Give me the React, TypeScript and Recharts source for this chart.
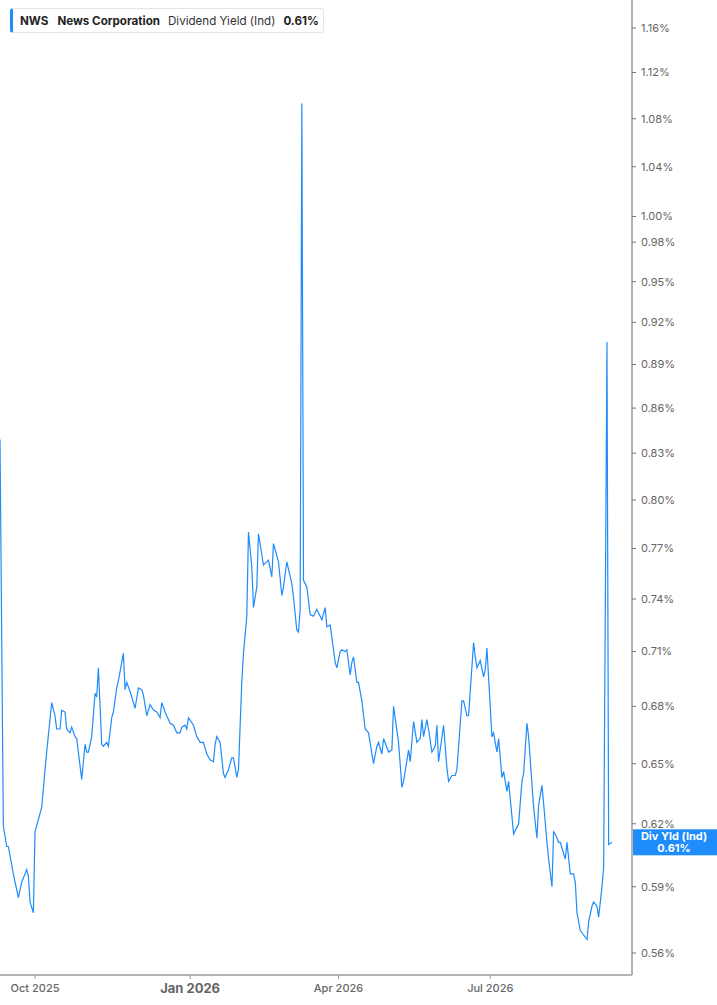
import React from 'react'
import {
  LineChart,
  Line,
  XAxis,
  YAxis,
  ReferenceLine,
} from 'recharts'

const dates = [
  '2025-09-10', '2025-09-12', '2025-09-14', '2025-09-15', '2025-09-18', '2025-09-21',
  '2025-09-23', '2025-09-26', '2025-09-27', '2025-09-28', '2025-09-30', '2025-10-01',
  '2025-10-05', '2025-10-07', '2025-10-08', '2025-10-11', '2025-10-13', '2025-10-14',
  '2025-10-16', '2025-10-17', '2025-10-19', '2025-10-20', '2025-10-22', '2025-10-23',
  '2025-10-25', '2025-10-26', '2025-10-29', '2025-10-31', '2025-11-01', '2025-11-02',
  '2025-11-04', '2025-11-06', '2025-11-07', '2025-11-08', '2025-11-10', '2025-11-11',
  '2025-11-13', '2025-11-14', '2025-11-16', '2025-11-17', '2025-11-19', '2025-11-20',
  '2025-11-23', '2025-11-24', '2025-11-25', '2025-11-27', '2025-11-29', '2025-11-30',
  '2025-12-02', '2025-12-04', '2025-12-05', '2025-12-07', '2025-12-09', '2025-12-11',
  '2025-12-13', '2025-12-15', '2025-12-16', '2025-12-18', '2025-12-21', '2025-12-23',
  '2025-12-25', '2025-12-27', '2025-12-28', '2025-12-30', '2025-12-31', '2026-01-01',
  '2026-01-04', '2026-01-06', '2026-01-08', '2026-01-10', '2026-01-12', '2026-01-14',
  '2026-01-16', '2026-01-17', '2026-01-18', '2026-01-20', '2026-01-22', '2026-01-23',
  '2026-01-25', '2026-01-27', '2026-01-28', '2026-01-30', '2026-01-31', '2026-02-02',
  '2026-02-03', '2026-02-05', '2026-02-06', '2026-02-08', '2026-02-09', '2026-02-11',
  '2026-02-12', '2026-02-15', '2026-02-18', '2026-02-20', '2026-02-21', '2026-02-24',
  '2026-02-26', '2026-02-27', '2026-03-01', '2026-03-04', '2026-03-05', '2026-03-07',
  '2026-03-08', '2026-03-09', '2026-03-10', '2026-03-11', '2026-03-12', '2026-03-13',
  '2026-03-15', '2026-03-17', '2026-03-19', '2026-03-21', '2026-03-22', '2026-03-24',
  '2026-03-25', '2026-03-27', '2026-03-28', '2026-03-30', '2026-03-31', '2026-04-02',
  '2026-04-03', '2026-04-05', '2026-04-06', '2026-04-08', '2026-04-09', '2026-04-10',
  '2026-04-12', '2026-04-13', '2026-04-15', '2026-04-17', '2026-04-19', '2026-04-22',
  '2026-04-24', '2026-04-25', '2026-04-27', '2026-04-28', '2026-05-01', '2026-05-03',
  '2026-05-04', '2026-05-07', '2026-05-09', '2026-05-10', '2026-05-13', '2026-05-14',
  '2026-05-16', '2026-05-18', '2026-05-20', '2026-05-21', '2026-05-22', '2026-05-24',
  '2026-05-25', '2026-05-27', '2026-05-29', '2026-05-30', '2026-05-31', '2026-06-03',
  '2026-06-05', '2026-06-06', '2026-06-08', '2026-06-10', '2026-06-11', '2026-06-14',
  '2026-06-15', '2026-06-17', '2026-06-18', '2026-06-21', '2026-06-22', '2026-06-23',
  '2026-06-25', '2026-06-27', '2026-06-28', '2026-06-29', '2026-07-02', '2026-07-03',
  '2026-07-05', '2026-07-06', '2026-07-08', '2026-07-09', '2026-07-11', '2026-07-12',
  '2026-07-15', '2026-07-18', '2026-07-20', '2026-07-21', '2026-07-23', '2026-07-24',
  '2026-07-27', '2026-07-29', '2026-07-30', '2026-08-01', '2026-08-02', '2026-08-04',
  '2026-08-05', '2026-08-07', '2026-08-08', '2026-08-09', '2026-08-11', '2026-08-12',
  '2026-08-15', '2026-08-16', '2026-08-18', '2026-08-20', '2026-08-21', '2026-08-22',
  '2026-08-24', '2026-08-26', '2026-08-28', '2026-08-29', '2026-08-31', '2026-09-01',
  '2026-09-03', '2026-09-04', '2026-09-06', '2026-09-07', '2026-09-09', '2026-09-10',
  '2026-09-12',
]

// dividend yield, percent
const yields = [
  0.839, 0.619, 0.609, 0.609, 0.596, 0.585,
  0.592, 0.598, 0.595, 0.583, 0.578, 0.616,
  0.628, 0.647, 0.656, 0.682, 0.675, 0.668,
  0.668, 0.678, 0.677, 0.668, 0.666, 0.669,
  0.664, 0.663, 0.642, 0.660, 0.656, 0.656,
  0.664, 0.687, 0.685, 0.701, 0.660, 0.659,
  0.661, 0.659, 0.674, 0.677, 0.690, 0.694,
  0.709, 0.689, 0.693, 0.688, 0.682, 0.679,
  0.690, 0.689, 0.686, 0.675, 0.681, 0.678,
  0.677, 0.674, 0.682, 0.677, 0.671, 0.670,
  0.666, 0.666, 0.669, 0.670, 0.668, 0.674,
  0.670, 0.664, 0.661, 0.661, 0.655, 0.652,
  0.651, 0.660, 0.664, 0.661, 0.645, 0.643,
  0.647, 0.653, 0.653, 0.643, 0.647, 0.693,
  0.709, 0.730, 0.780, 0.759, 0.735, 0.747,
  0.779, 0.760, 0.763, 0.753, 0.773, 0.762,
  0.742, 0.747, 0.762, 0.749, 0.741, 0.722,
  0.721, 0.734, 1.093, 0.751, 0.749, 0.747,
  0.731, 0.730, 0.734, 0.730, 0.728, 0.735,
  0.724, 0.725, 0.718, 0.704, 0.701, 0.710,
  0.711, 0.710, 0.711, 0.697, 0.704, 0.707,
  0.693, 0.693, 0.683, 0.668, 0.666, 0.650,
  0.659, 0.661, 0.655, 0.663, 0.656, 0.657,
  0.680, 0.661, 0.638, 0.641, 0.657, 0.651,
  0.672, 0.661, 0.663, 0.673, 0.664, 0.673,
  0.668, 0.656, 0.659, 0.670, 0.651, 0.670,
  0.648, 0.641, 0.644, 0.644, 0.647, 0.683,
  0.683, 0.675, 0.675, 0.715, 0.707, 0.701,
  0.705, 0.696, 0.700, 0.712, 0.664, 0.666,
  0.656, 0.663, 0.643, 0.646, 0.636, 0.641,
  0.615, 0.620, 0.641, 0.645, 0.671, 0.664,
  0.628, 0.613, 0.629, 0.639, 0.630, 0.611,
  0.603, 0.590, 0.616, 0.615, 0.611, 0.611,
  0.603, 0.611, 0.596, 0.596, 0.592, 0.578,
  0.570, 0.568, 0.566, 0.574, 0.581, 0.583,
  0.581, 0.576, 0.590, 0.599, 0.906, 0.610,
  0.611,
]

const yTicks = [
  0.56, 0.59, 0.62, 0.65, 0.68, 0.71, 0.74, 0.77, 0.8, 0.83,
  0.86, 0.89, 0.92, 0.95, 0.98, 1.0, 1.04, 1.08, 1.12, 1.16,
]
const xTickDates = ['2025-10-01', '2026-01-02', '2026-04-01', '2026-07-01']
const xTickLabels = ['Oct 2025', 'Jan 2026', 'Apr 2026', 'Jul 2026']
const yearTick = 'Jan 2026'

const X_START = '2025-09-10'
const X_END = '2026-09-24'
const Y_MIN = 0.5504
const Y_MAX = 1.1858

const BLUE = '#1e8cfa'
const FONT = 'Inter, "Noto Sans", sans-serif'

const toTime = (d: string) => Date.parse(d + 'T00:00:00Z')

const data = dates.map((d, i) => ({ t: toTime(d), v: yields[i] }))
const xTicks = xTickDates.map(toTime)
const lastValue = yields[yields.length - 1]

const formatX = (t: number) => xTickLabels[xTicks.indexOf(t)] ?? ''

const XTick = (props: any) => {
  const { x, y, payload } = props
  const label = formatX(payload.value)
  const isYear = label === yearTick
  return (
    <text
      x={x}
      y={y}
      dy={isYear ? 12 : 11}
      textAnchor="middle"
      fill="#666"
      fontFamily={FONT}
      fontSize={isYear ? 13 : 11}
      fontWeight={isYear ? 700 : 500}
    >
      {label}
    </text>
  )
}

const LastLabel = (props: any) => {
  const { viewBox } = props
  const x = viewBox.x + viewBox.width
  const y = viewBox.y
  return (
    <g>
      <rect x={x} y={y - 13} width={85} height={26} fill={BLUE} />
      <text
        x={x + 42}
        y={y - 2}
        textAnchor="middle"
        fill="#fff"
        fontFamily={FONT}
        fontSize={11}
        fontWeight={700}
      >
        Div Yld (Ind)
      </text>
      <text
        x={x + 42}
        y={y + 10}
        textAnchor="middle"
        fill="#fff"
        fontFamily={FONT}
        fontSize={11}
        fontWeight={700}
      >
        {lastValue.toFixed(2)}%
      </text>
    </g>
  )
}

const Legend = () => (
  <div
    style={{
      position: 'absolute',
      left: 10,
      top: 8,
      width: 314,
      height: 25,
      boxSizing: 'border-box',
      border: '1px solid #e4e4e4',
      borderLeft: `3px solid ${BLUE}`,
      borderRadius: 3,
      background: '#fff',
      display: 'flex',
      alignItems: 'center',
      paddingLeft: 7,
      fontFamily: FONT,
      fontSize: 11.6,
      color: '#222',
      whiteSpace: 'nowrap',
    }}
  >
    <span style={{ fontWeight: 700 }}>NWS</span>
    <span style={{ fontWeight: 700, marginLeft: 9 }}>News Corporation</span>
    <span style={{ marginLeft: 8, color: '#333' }}>Dividend Yield (Ind)</span>
    <span style={{ fontWeight: 700, marginLeft: 8 }}>{lastValue.toFixed(2)}%</span>
  </div>
)

export default function App() {
  return (
    <div
      style={{
        position: 'absolute',
        left: 0,
        top: 0,
        width: 717,
        height: 1005,
        background: '#fff',
      }}
    >
      <LineChart
        width={717}
        height={1005}
        data={data}
        margin={{ top: 0, right: 0, bottom: 0, left: 0 }}
      >
        <XAxis
          dataKey="t"
          type="number"
          scale="time"
          domain={[toTime(X_START), toTime(X_END)]}
          ticks={xTicks}
          interval={0}
          tick={<XTick />}
          height={30}
          tickSize={4}
          tickMargin={2}
          stroke="#b4b4b4"
          strokeWidth={2}
          tickLine={{ stroke: '#999', strokeWidth: 1 }}
          allowDataOverflow
        />
        <YAxis
          orientation="right"
          scale="log"
          domain={[Y_MIN, Y_MAX]}
          ticks={yTicks}
          interval={0}
          allowDataOverflow
          width={85}
          tickSize={4}
          tickMargin={5}
          stroke="#b4b4b4"
          strokeWidth={2}
          tickLine={{ stroke: '#777', strokeWidth: 1 }}
          tick={{ fill: '#666', fontSize: 11, fontFamily: FONT }}
          tickFormatter={(v: number) => v.toFixed(2) + '%'}
        />
        <Line
          type="linear"
          dataKey="v"
          stroke={BLUE}
          strokeWidth={1.2}
          dot={false}
          activeDot={false}
          isAnimationActive={false}
        />
        <ReferenceLine
          y={lastValue}
          stroke="none"
          label={<LastLabel />}
        />
      </LineChart>
      <Legend />
    </div>
  )
}
